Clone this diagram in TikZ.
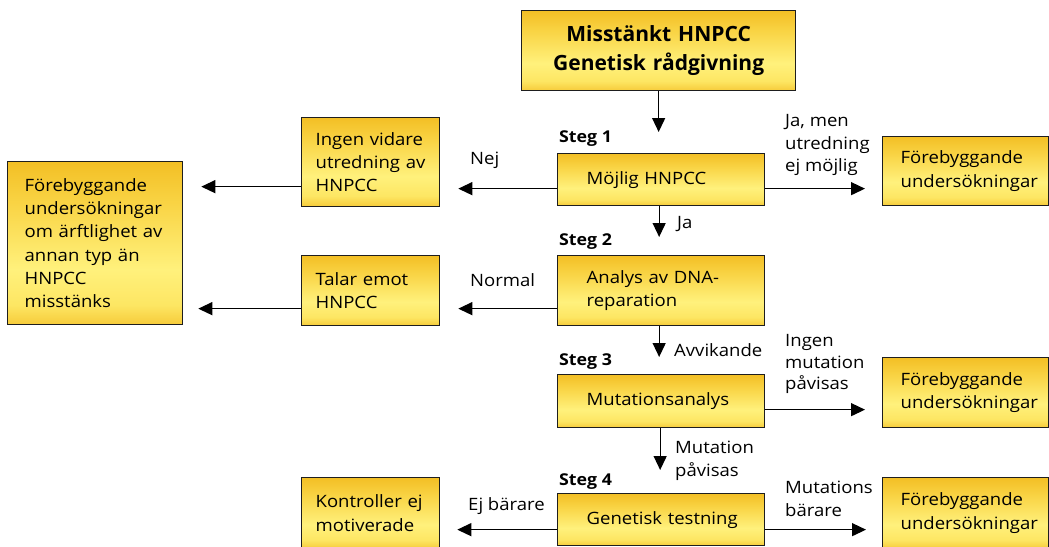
\documentclass[tikz,border=0pt]{standalone}
\usepackage{fontspec}
\setmainfont{Open Sans}[FakeStretch=1.09]
\newfontfamily\titlefont{Open Sans}
\usetikzlibrary{arrows.meta,calc}
\hyphenpenalty=10000
\definecolor{ytop}{HTML}{F3BF25}
\definecolor{yupper}{HTML}{F9D445}
\definecolor{ymid}{HTML}{FFF17C}
\definecolor{ylow}{HTML}{FDE663}
\definecolor{ybot}{HTML}{F6CB3A}
\definecolor{edge}{HTML}{1E1E1E}
\pgfdeclareverticalshading{boxshade}{100bp}{color(0bp)=(ybot); color(25bp)=(ybot); color(31bp)=(ylow); color(42bp)=(ymid); color(62bp)=(yupper); color(75bp)=(ytop); color(100bp)=(ytop)}
\tikzset{
  box/.style={draw=edge, line width=1.3pt, shading=boxshade, anchor=north west,
    align=left, inner ysep=0pt, font=\fontsize{17pt}{23.3pt}\selectfont},
  stepbox/.style={box, text width=149pt, inner xsep=29pt},
  sidebox/.style={box, text width=110pt, inner xsep=14pt},
  rightbox/.style={box, text width=130pt, inner xsep=18pt},
  lbl/.style={anchor=west, inner sep=0pt, align=left, font=\fontsize{17pt}{22.5pt}\selectfont},
  steglbl/.style={anchor=west, inner sep=0pt, font=\bfseries\fontsize{16.3pt}{19pt}\selectfont},
  arr/.style={line width=1.3pt, -{Triangle[length=14pt,width=13pt]}}
}
\begin{document}
\begin{tikzpicture}[x=1pt,y=-1pt]
\useasboundingbox (0,0) rectangle (1049,546);
\clip (0,0) rectangle (1049,546);
% main column
\node[box, align=center, text width=250pt, inner xsep=12pt, minimum height=80pt,
  font=\titlefont\bfseries\fontsize{21pt}{29pt}\selectfont] (top) at (521,10) {Misstänkt HNPCC\\Genetisk rådgivning};
\node[stepbox, minimum height=52pt] (s1) at (557,153) {\mbox{Möjlig HNPCC}};
\node[stepbox, minimum height=70pt] (s2) at (557,255) {Analys av DNA-\\reparation};
\node[stepbox, minimum height=53pt] (s3) at (557,374) {\mbox{Mutationsanalys}};
\node[stepbox, minimum height=52pt] (s4) at (557,493) {\mbox{Genetisk testning}};
% left side
\node[sidebox, minimum height=89pt] (ingen) at (301,117) {Ingen vidare\\utredning av\\HNPCC};
\node[sidebox, minimum height=70pt] (talar) at (301,255) {Talar emot\\HNPCC};
\node[sidebox, minimum height=71pt] (kont) at (301,477) {Kontroller ej\\motiverade};
\node[box, text width=141pt, inner xsep=17pt, minimum height=163pt] (other) at (7,161)
  {Förebyggande\\undersökningar\\om ärftlighet av\\annan typ än\\HNPCC\\misstänks};
% right side
\node[rightbox, minimum height=69pt] (r1) at (882,136) {Förebyggande\\undersökningar};
\node[rightbox, minimum height=70pt] (r2) at (882,357) {Förebyggande\\undersökningar};
\node[rightbox, minimum height=71pt] (r3) at (882,477) {Förebyggande\\undersökningar};
% step labels
\node[steglbl] (st1) at (559,139) {Steg 1};
\node[steglbl] (st2) at (559,242) {Steg 2};
\node[steglbl] (st3) at (559,362) {Steg 3};
\node[steglbl] (st4) at (559,482) {Steg 4};
% edge labels
\node[lbl] (lnej) at (470,160) {Nej};
\node[lbl] (ljamen) at (785,145) {Ja, men\\utredning\\ej möjlig};
\node[lbl] (lja) at (677,224) {Ja};
\node[lbl] (lnorm) at (470,280) {Normal};
\node[lbl] (lavv) at (674,350) {Avvikande};
\node[lbl, font=\fontsize{17pt}{21.5pt}\selectfont] (lingen) at (785,364) {Ingen\\mutation\\påvisas};
\node[lbl] (lmut) at (675,461) {Mutation\\påvisas};
\node[lbl] (lej) at (468,506) {Ej bärare};
\node[lbl] (lbar) at (785,499) {Mutations\\bärare};
% connector anchors
\coordinate (a1) at ([yshift=-9pt]s1.west);
\coordinate (a2) at ([yshift=-24.5pt]ingen.west);
\coordinate (a3) at ([yshift=-9pt]s1.east);
\coordinate (a4) at ([yshift=-18pt]s2.west);
\coordinate (a5) at ([yshift=-18pt]talar.west);
\coordinate (a6) at ([yshift=-8.5pt]s3.east);
\coordinate (a7) at ([yshift=-10pt]s4.west);
\coordinate (a8) at ([yshift=-10pt]s4.east);
\coordinate (v1) at ([xshift=-2pt]s1.south);
\coordinate (v2) at ([xshift=-2pt]s2.south);
\coordinate (v3) at ([xshift=-1pt]s3.south);
% arrows
\draw[arr, shorten >=21pt] (top.south) -- (top.south |- s1.north);
\draw[arr, shorten >=18pt] (a1) -- (a1 -| ingen.east);
\draw[arr, shorten >=18pt] (a2) -- (a2 -| other.east);
\draw[arr, shorten >=17pt] (a3) -- (a3 -| r1.west);
\draw[arr, shorten >=18pt] (v1) -- (v1 |- s2.north);
\draw[arr, shorten >=18pt] (a4) -- (a4 -| talar.east);
\draw[arr, shorten >=15pt] (a5) -- (a5 -| other.east);
\draw[arr, shorten >=17pt] (v2) -- (v2 |- s3.north);
\draw[arr, shorten >=17pt] (a6) -- (a6 -| r2.west);
\draw[arr, shorten >=23pt] (v3) -- (v3 |- s4.north);
\draw[arr, shorten >=17pt] (a7) -- (a7 -| kont.east);
\draw[arr, shorten >=16pt] (a8) -- (a8 -| r3.west);
\end{tikzpicture}
\end{document}
